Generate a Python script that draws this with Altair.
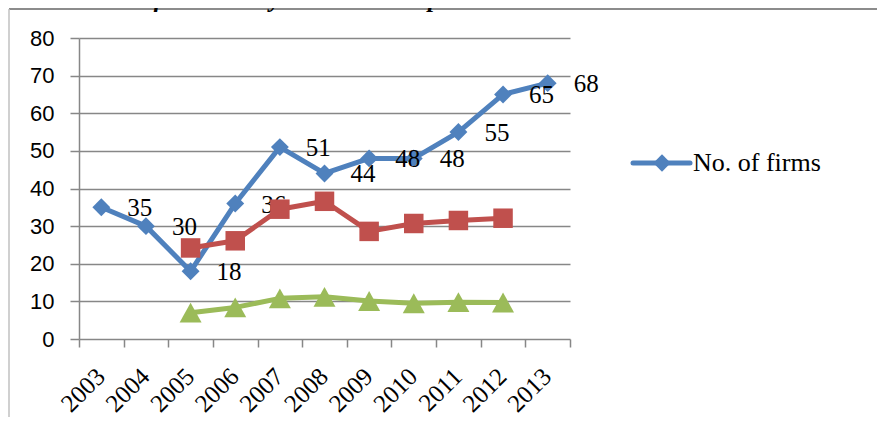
import altair as alt
import pandas as pd

# ---- data ----
years = [str(y) for y in range(2003, 2014)]
firms = [35, 30, 18, 36, 51, 44, 48, 48, 55, 65, 68]
red_years = years[2:10]
red_vals = [24.2, 26.1, 34.5, 36.6, 28.6, 30.7, 31.5, 32.1]
green_years = years[2:10]
green_vals = [7.0, 8.4, 10.8, 11.2, 10.1, 9.5, 9.8, 9.7]
y_ticks = [0, 10, 20, 30, 40, 50, 60, 70, 80]
legend_label = ["No. of firms"]
title_text = ["Demonstration of Machinery cluster development"]

blue_df = pd.DataFrame({"year": years, "value": firms})
red_df = pd.DataFrame({"year": red_years, "value": red_vals})
green_df = pd.DataFrame({"year": green_years, "value": green_vals})
legend_df = pd.DataFrame({"label": legend_label})
title_df = pd.DataFrame({"t": title_text})

BLUE = "#4F81BD"
RED = "#C0504D"
GREEN = "#9BBB59"
GRID = "#878787"
SERIF = "Liberation Serif"
SANS = "Liberation Sans"

W, H = 491, 301

xscale = alt.Scale(type="band", domain=years, paddingInner=0, paddingOuter=0)
yscale = alt.Scale(domain=[0, 80], nice=False)

x_axis = alt.Axis(
    title=None, tickBand="extent", domain=False, grid=False, ticks=True,
    tickSize=8, tickColor=GRID, tickWidth=1.5,
    labelAngle=-45, labelAlign="right", labelBaseline="middle",
    labelFont=SERIF, labelFontSize=25, labelColor="black",
    labelPadding=25, labelOffset=-1,
)
y_axis = alt.Axis(
    title=None, values=y_ticks, grid=True, gridColor=GRID, gridWidth=1.5,
    domain=True, domainColor=GRID, domainWidth=1.5,
    ticks=True, tickSize=9, tickColor=GRID, tickWidth=1.5,
    labelFont=SANS, labelFontSize=22, labelColor="black", labelPadding=16,
)


def enc():
    return dict(
        x=alt.X("year:N", scale=xscale, axis=x_axis),
        y=alt.Y("value:Q", scale=yscale, axis=y_axis),
    )


blue_line = alt.Chart(blue_df).mark_line(color=BLUE, strokeWidth=5, strokeJoin="round").encode(**enc())
blue_pts = alt.Chart(blue_df).mark_point(shape="diamond", filled=True, size=320, color=BLUE, opacity=1).encode(**enc())
blue_lbl = alt.Chart(blue_df).mark_text(
    align="left", baseline="middle", dx=26, dy=1, font=SERIF, fontSize=25, color="black"
).encode(text=alt.Text("value:Q"), **enc())

red_line = alt.Chart(red_df).mark_line(color=RED, strokeWidth=5, strokeJoin="round").encode(**enc())
red_pts = alt.Chart(red_df).mark_point(shape="square", filled=True, size=380, color=RED, opacity=1).encode(**enc())

green_line = alt.Chart(green_df).mark_line(color=GREEN, strokeWidth=5, strokeJoin="round").encode(**enc())
green_pts = alt.Chart(green_df).mark_point(
    shape="M0,-0.9L1,0.9L-1,0.9Z", filled=True, size=484, color=GREEN, opacity=1
).encode(**enc())

# manual legend (only the first series is listed in the reference)
leg_line = alt.Chart(legend_df).mark_rule(color=BLUE, strokeWidth=5, strokeCap="round").encode(
    x=alt.value(554), x2=alt.value(611), y=alt.value(125)
)
leg_pt = alt.Chart(legend_df).mark_point(shape="diamond", filled=True, size=300, color=BLUE, opacity=1).encode(
    x=alt.value(583), y=alt.value(125)
)
leg_txt = alt.Chart(legend_df).mark_text(
    align="left", baseline="middle", font=SERIF, fontSize=26, color="black"
).encode(x=alt.value(614), y=alt.value(125), text="label:N")

# chart-area border
border_top = alt.Chart(legend_df).mark_rule(color="#8c8c8c", strokeWidth=2).encode(
    x=alt.value(-70), x2=alt.value(900), y=alt.value(-29)
)
border_left = alt.Chart(legend_df).mark_rule(color="#c0c0c0", strokeWidth=1.5).encode(
    x=alt.value(-70), y=alt.value(-29), y2=alt.value(500)
)

# title, mostly cut off above the visible area as in the reference
title = alt.Chart(title_df).mark_text(
    align="right", baseline="alphabetic", font=SERIF, fontSize=25, fontWeight="bold",
    fontStyle="italic", color="black"
).encode(x=alt.value(413), y=alt.value(-31), text="t:N")

chart = alt.layer(
    blue_line, blue_pts, blue_lbl,
    red_line, red_pts,
    green_line, green_pts,
    leg_line, leg_pt, leg_txt,
    border_top, border_left, title,
).properties(
    width=W, height=H,
    background="white",
    autosize=alt.AutoSizeParams(type="none"),
    padding={"left": 71, "top": 30, "right": 307, "bottom": 78},
).configure_view(stroke=None)

chart.save("out.html", embed_options={"renderer": "svg", "actions": False})
